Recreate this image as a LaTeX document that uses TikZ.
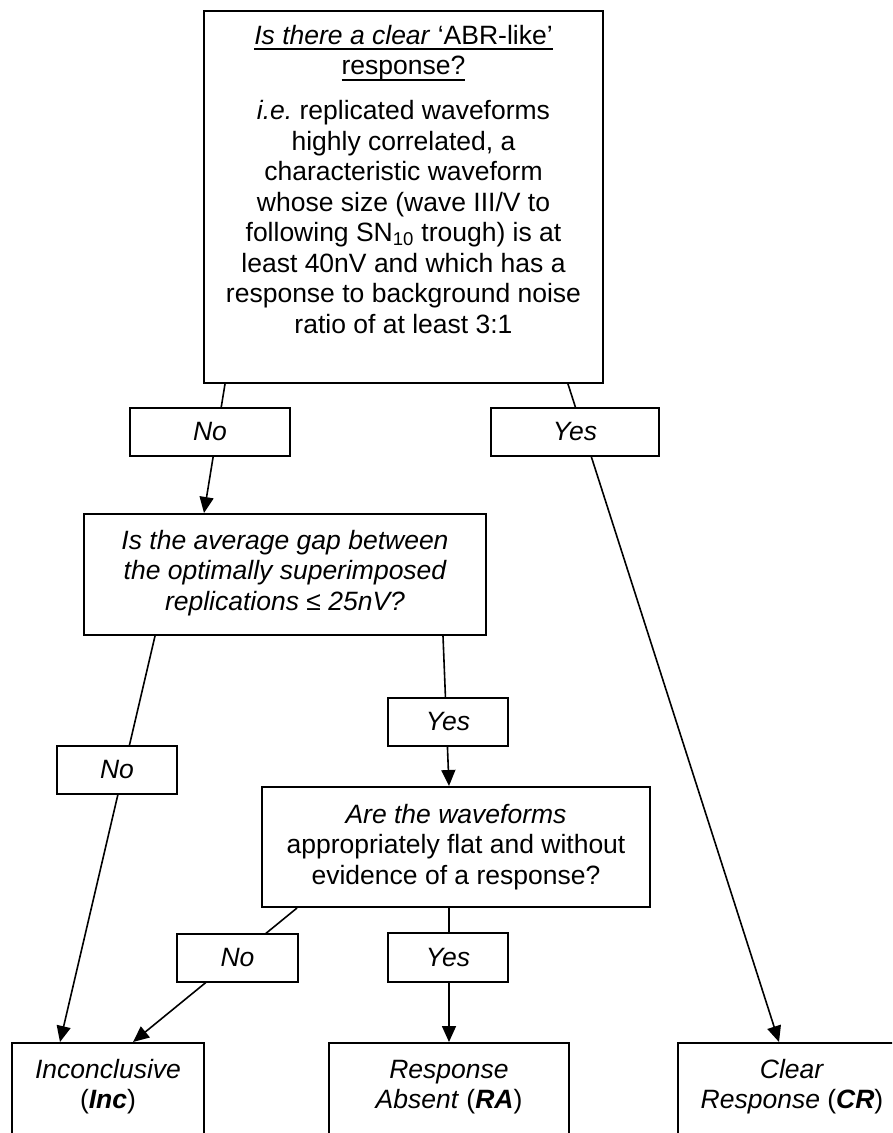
\documentclass[tikz,border=0pt]{standalone}
\usepackage{fontspec}
\setmainfont{Liberation Sans}
\usetikzlibrary{arrows.meta,calc}
\frenchspacing
\newcommand{\fs}{\fontsize{26.5pt}{30.5pt}\selectfont}
\newcommand{\bt}[4]{\parbox[c][#2][t]{#1}{\centering\vspace*{#3}\strut #4\par}}
\newcommand{\myul}[1]{\leavevmode\setbox0\hbox{#1}\rlap{\rule[-6pt]{\wd0}{1.6pt}}\box0}
\begin{document}
\begin{tikzpicture}[x=1pt,y=-1pt,
  every node/.style={font=\fs},
  box/.style={draw, line width=2pt, inner sep=0pt, fill=white},
  lbl/.style={draw, line width=2pt, inner sep=0pt, fill=white, font=\fs\itshape},
  arr/.style={line width=1.6pt, -{Triangle[length=16pt,width=14pt]}}]
\useasboundingbox (0,0) rectangle (892,1133);
\clip (0,0) rectangle (892,1133);
\fill[white] (0,0) rectangle (892,1133);

\node[box, anchor=north west] (top) at (203,10) {\bt{399pt}{372pt}{11.65pt}{%
\myul{\textit{Is there a clear} ‘ABR-like’}\\ \myul{response?}\\[14.5pt]
\textit{i.e.} replicated waveforms\\ highly correlated, a\\ characteristic waveform\\
whose size (wave III/V to\\ following SN\textsubscript{10} trough) is at\\
least 40nV and which has a\\ response to background noise\\ ratio of at least 3:1}};

\node[box, anchor=north west] (q2) at (83,513) {\bt{402pt}{121pt}{13.65pt}{\itshape
Is the average gap between\\ the optimally superimposed\\ replications ≤ 25nV?}};

\node[box, anchor=north west] (q3) at (261,786) {\bt{388pt}{120pt}{14.65pt}{%
\textit{Are the waveforms}\\ appropriately flat and without\\ evidence of a response?}};

\node[box, anchor=north west] (inc) at (11,1042) {\bt{192pt}{110pt}{13.65pt}{%
\textit{Inconclusive}\\ (\textbf{\textit{Inc}})}};
\node[box, anchor=north west] (ra) at (328,1042) {\bt{240pt}{110pt}{13.65pt}{%
\textit{Response}\\ \textit{Absent} (\textbf{\textit{RA}})}};
\node[box, anchor=north west] (cr) at (677,1042) {\bt{228pt}{110pt}{13.65pt}{%
\textit{Clear}\\ \textit{Response} (\textbf{\textit{CR}})}};

\draw[arr] ($(top.south west)+(22,0)$) -- ($(q2.north west)+(121,0)$);
\draw[arr] ($(top.south west)+(365,0)$) -- ($(cr.north west)+(102,0)$);
\draw[arr] ($(q2.south west)+(72,0)$) -- ($(inc.north west)+(49,0)$);
\draw[arr] ($(q2.south west)+(360,0)$) -- ($(q3.north west)+(188,0)$);
\draw[arr] ($(q3.south west)+(36,0)$) -- ($(inc.north west)+(122,0)$);
\draw[arr] ($(q3.south west)+(188,0)$) -- ($(ra.north west)+(121,0)$);

\node[lbl, minimum width=160pt, minimum height=48pt] (no1) at (210,432) {No};
\node[lbl, minimum width=168pt, minimum height=48pt] (yes1) at (575,432) {Yes};
\node[lbl, minimum width=120pt, minimum height=48pt] (no3) at (117,770) {No};
\node[lbl, minimum width=120pt, minimum height=48pt] (yes2) at (448,722) {Yes};
\node[lbl, minimum width=121pt, minimum height=48pt] (no2) at (237.5,958) {No};
\node[lbl, minimum width=120pt, minimum height=49pt] (yes3) at (448,957.5) {Yes};
\end{tikzpicture}
\end{document}
